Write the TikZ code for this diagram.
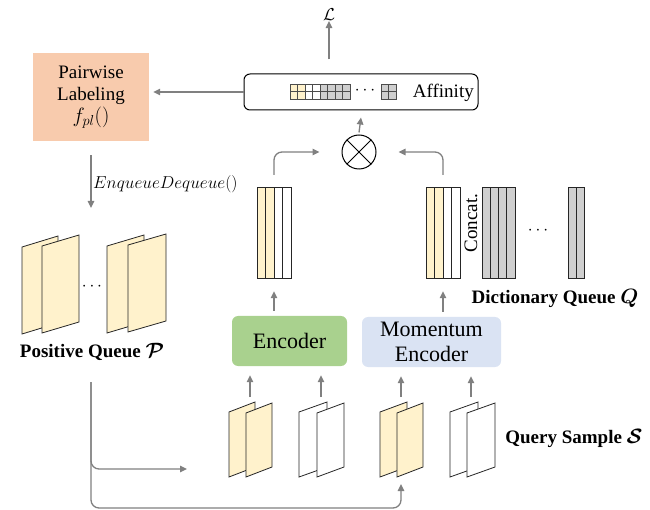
\documentclass[tikz,border=0pt]{standalone}
\usepackage{fontspec}
\setmainfont{Liberation Serif}
\usepackage{bm}
\usetikzlibrary{arrows.meta}
\definecolor{yel}{HTML}{FFF2CC}
\definecolor{gry}{HTML}{CFCFCF}
\definecolor{peach}{HTML}{F8CBAD}
\definecolor{grn}{HTML}{A9D18E}
\definecolor{blu}{HTML}{DAE3F3}
\definecolor{arrgray}{HTML}{808080}
\newcommand\qpage[6]{%
  \filldraw[fill=#6, draw=black!85, line width=0.8pt] (#1,#2) -- (#1+#3,#2-#5) -- (#1+#3,#2+#4-#5) -- (#1,#2+#4) -- cycle;}
\newcommand\colstack[5]{%
  \foreach \c [count=\i from 0] in {#5} {\filldraw[fill=\c, draw=black!85, line width=0.8pt] (#1+\i*#3,#2) rectangle ++(#3,#4);}}
\begin{document}
\begin{tikzpicture}[x=1pt,y=-1pt,
  arr/.style={draw=arrgray, line width=1.3pt, -{Triangle[length=7pt,width=6.5pt]}},
  txt/.style={font=\fontsize{19}{22}\selectfont, inner sep=0pt},
  enc/.style={rounded corners=6pt, minimum height=50pt, inner sep=0pt, align=center, font=\fontsize{22}{25}\selectfont},
  area/.style={inner sep=0pt, minimum width=#1}]
\useasboundingbox (0,0) rectangle (650,510);

% Loss
\node[txt, font=\fontsize{18}{20}\selectfont] (loss) at (329,15) {$\mathcal{L}$};

% Affinity box
\node[draw, line width=1pt, rounded corners=6pt, minimum width=234pt, minimum height=36pt, inner sep=0pt] (aff) at (361,92) {};
\node[txt, anchor=east] (afft) at (474,93) {Affinity};
\foreach \c [count=\i from 0] in {yel,yel,white,white,gry,gry,gry,gry} {
  \filldraw[fill=\c, draw=black!70, line width=0.6pt] (290+\i*7.5,84) rectangle ++(7.5,7.5);
  \filldraw[fill=\c, draw=black!70, line width=0.6pt] (290+\i*7.5,91.5) rectangle ++(7.5,7.5);
}
\node[txt, font=\fontsize{16}{18}\selectfont] (adots) at (365,91) {$\cdots$};
\foreach \i in {0,1} \foreach \j in {0,1}
  \filldraw[fill=gry, draw=black!70, line width=0.6pt] (381+\i*7.5,84+\j*7.5) rectangle ++(7.5,7.5);

\draw[arr] ([yshift=14pt]aff.north -| loss) -- (loss.south);

% Pairwise labeling
\node[fill=peach, minimum width=116pt, minimum height=88pt, inner sep=0pt, align=center, font=\fontsize{19}{22}\selectfont] (pl) at (91,97) {Pairwise\\Labeling\\{\fontsize{22}{22}\selectfont$f_{pl}()$}};
\draw[arr] (aff.west) -- ([xshift=4pt]aff.west -| pl.east);

% Enqueue arrow
\coordinate (eqend) at (91,208);
\draw[arr] ([yshift=-14pt]pl.south) -- (eqend);
\node[anchor=west, inner sep=0pt, font=\fontsize{16.5}{18}\selectfont] (eqt) at (93,184) {$EnqueueDequeue()$};

% otimes
\node[draw, circle, line width=1pt, minimum size=34pt, inner sep=0pt] (ot) at (359,152) {};
\draw[line width=0.9pt] (ot.north west) -- (ot.south east) (ot.north east) -- (ot.south west);
\draw[arr] ([yshift=2pt]ot.north) -- ([yshift=-7pt]aff.south);

% feature stacks
\colstack{257}{187}{8.5}{91}{yel,yel,white,white}
\node[area=34pt, minimum height=91pt] (ls) at (274,232.5) {};
\colstack{426}{187}{8.5}{91}{yel,yel,white,white}
\node[area=34pt, minimum height=91pt] (rs) at (443,232.5) {};
\colstack{482}{187}{8.25}{91}{gry,gry,gry,gry}
\node[txt, font=\fontsize{16}{18}\selectfont] (ddots) at (538,231) {$\cdots$};
\colstack{568}{187}{8}{91}{gry,gry}
\node[txt, rotate=90] (concat) at (471,223) {Concat.};
\node[txt, font=\bfseries\fontsize{19}{22}\selectfont] (dq) at (555,298) {Dictionary Queue {\fontsize{21}{22}\selectfont$\bm{Q}$}};

\draw[arr, rounded corners=8pt] ([yshift=12pt]ls.north) |- ([xshift=-22pt]ot.west);
\draw[arr, rounded corners=8pt] ([yshift=12pt]rs.north) |- ([xshift=22pt]ot.east);

% Encoders
\node[enc, fill=grn, minimum width=115pt] (enc) at (289.5,341) {Encoder};
\node[enc, fill=blu, minimum width=139pt] (menc) at (431.5,342) {Momentum\\Encoder};
\draw[arr] ([yshift=5pt]enc.north -| ls) -- ([yshift=-13pt]ls.south);
\draw[arr] ([yshift=5pt]menc.north -| rs) -- ([yshift=-13pt]rs.south);

% Positive queue pages
\qpage{22}{247}{36}{87}{11}{yel}
\qpage{42}{246}{37}{87}{11}{yel}
\qpage{107}{246}{37}{87}{11}{yel}
\qpage{128}{245}{38}{87}{11}{yel}
\node[txt, font=\fontsize{16}{18}\selectfont] (pdots) at (92,287) {$\cdots$};
\node[txt, font=\bfseries\fontsize{19}{22}\selectfont] (pq) at (92,352) {Positive Queue {\fontsize{22}{22}\selectfont$\bm{\mathcal{P}}$}};

% Query sample pages
\qpage{229}{412}{26}{65}{10}{yel}
\qpage{246}{413}{26}{64}{10}{yel}
\qpage{299}{412}{28}{65}{10}{white}
\qpage{317}{413}{27}{64}{10}{white}
\qpage{380}{412}{27}{65}{10}{yel}
\qpage{397}{413}{26}{64}{10}{yel}
\qpage{450}{412}{28}{65}{10}{white}
\qpage{467}{413}{28}{64}{10}{white}
\coordinate (q1) at (250,397);
\coordinate (q2) at (321,397);
\coordinate (q3) at (401,397);
\coordinate (q4) at (471,397);
\coordinate (q3b) at (401,484);
\node[txt, font=\bfseries\fontsize{19}{22}\selectfont] (qs) at (574,438) {Query Sample {\fontsize{22}{22}\selectfont$\bm{\mathcal{S}}$}};
\foreach \q in {q1,q2} \draw[arr] (\q) -- ([yshift=-9pt]enc.south -| \q);
\foreach \q in {q3,q4} \draw[arr] (\q) -- ([yshift=-9pt]menc.south -| \q);

% loops from positive queue
\coordinate (pqs) at (91,382);
\coordinate (qin) at (187,469);
\draw[arr, rounded corners=8pt] (pqs) |- (qin);
\draw[arr, rounded corners=8pt] (pqs) |- (401,508) -- (q3b);
\end{tikzpicture}
\end{document}
